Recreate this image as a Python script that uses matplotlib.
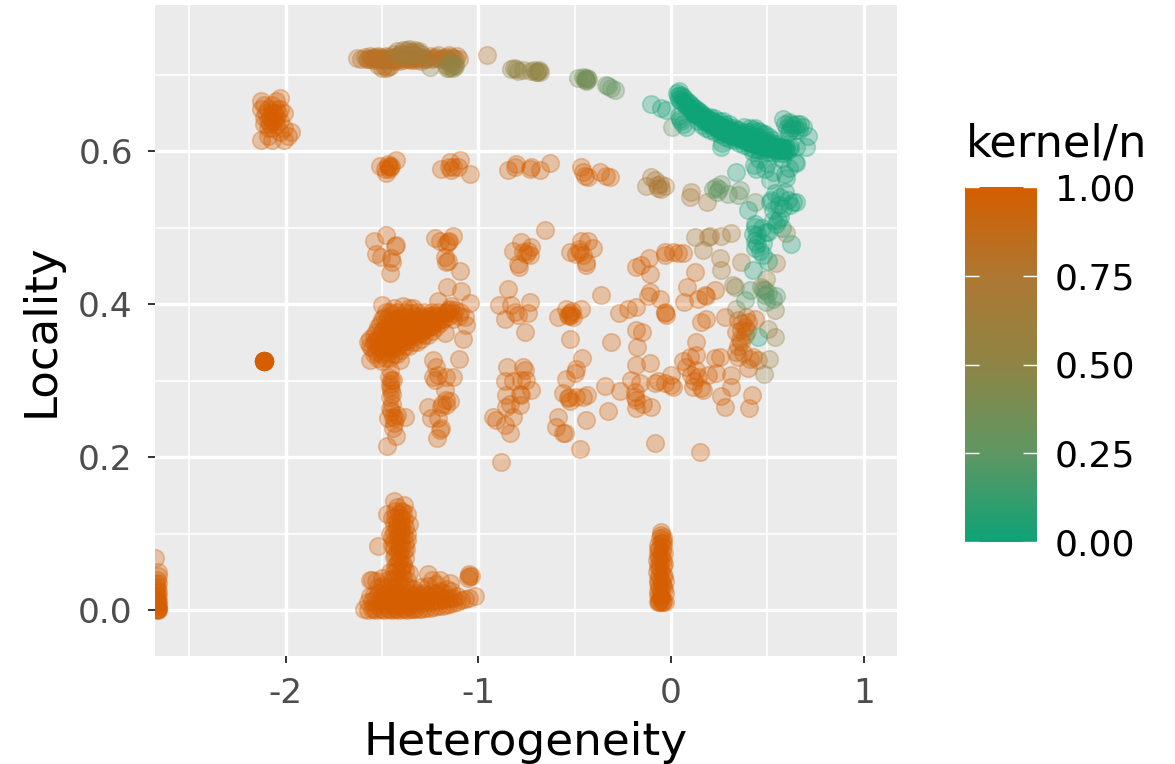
import matplotlib
matplotlib.use("Agg")
import matplotlib.pyplot as plt
import numpy as np
from matplotlib.colors import LinearSegmentedColormap

# valeurs : (heterogeneity, locality), regroupees par nuage
top_row = [(-1.63,.722),(-1.61,.720),(-1.59,.723),(-1.57,.721),(-1.55,.722),(-1.53,.720),(-1.51,.723),(-1.50,.721),
    (-1.49,.719),(-1.47,.723),(-1.46,.720),(-1.45,.722),(-1.43,.720),(-1.42,.724),(-1.41,.721),(-1.39,.719),
    (-1.38,.723),(-1.36,.721),(-1.35,.719),(-1.33,.722),(-1.31,.720),(-1.29,.723),(-1.27,.721),(-1.25,.724),
    (-1.23,.722),(-1.21,.725),(-1.19,.721),(-1.17,.723),(-1.15,.725),(-1.13,.722),(-1.11,.724),(-1.10,.721),
    (-1.56,.724),(-1.54,.719),(-1.52,.724),(-1.48,.724),(-1.44,.718),(-1.40,.724),(-1.34,.724),(-1.30,.718),
    (-1.58,.720),(-1.56,.720),(-1.54,.723),(-1.53,.722),(-1.51,.720),(-1.49,.722),(-1.47,.720),(-1.45,.719),
    (-1.43,.723),(-1.41,.718),(-1.39,.722),(-1.37,.720),(-1.35,.722),(-1.33,.719),(-1.31,.723),(-1.28,.720),
    (-1.26,.722),(-1.24,.720),(-1.22,.723),(-1.20,.720),(-1.18,.722),(-1.16,.720),(-1.14,.723),(-1.12,.720),
    (-1.50,.709),(-1.48,.708),(-1.47,.710),(-1.52,.712),(-1.49,.711),(-1.46,.711),(-0.953,.726)]
top_row_olive = [(-1.44,.727),(-1.42,.731),(-1.40,.728),(-1.39,.732),(-1.37,.729),(-1.36,.733),(-1.35,.730),
    (-1.34,.727),(-1.33,.732),(-1.32,.729),(-1.31,.731),(-1.30,.727),(-1.41,.725),(-1.38,.726),(-1.35,.725),
    (-1.37,.732),(-1.34,.730),(-1.33,.725)]
top_row_end = [(-1.253,.710),(-1.17,.712),(-1.16,.708),(-1.15,.715),(-1.14,.710),(-1.14,.716),(-1.13,.708),
    (-1.13,.713),(-1.12,.711),(-1.15,.709),(-1.12,.714),(-0.829,.707),(-0.815,.708),(-0.803,.707),(-0.795,.705),
    (-0.768,.706),(-0.725,.705),(-0.71,.706),(-0.70,.704),(-0.690,.705),(-0.685,.706),(-0.682,.703),(-0.695,.703)]
arc_mid = [(-.483,.696),(-.455,.697),(-.448,.694),(-.445,.695),(-.439,.693),(-.436,.696),(-.432,.694),(-.442,.692)]
arc_right = [(-.336,.687),(-.325,.685),(-.310,.683),(-.292,.680),(.005,.632),(.218,.551),(.235,.553),(.261,.557),
    (.250,.550),(.296,.544),(.348,.542),(.356,.549),(.434,.533),(.240,.546)]
green_band = [(.030,.676),(.035,.672),(.040,.678),(.042,.668),(.048,.674),(.052,.666),(.058,.672),(.062,.664),
    (.068,.669),(.072,.661),(.078,.666),(.082,.659),(.088,.664),(.092,.656),(.098,.662),(.102,.654),(.108,.659),
    (.112,.652),(.118,.657),(.122,.650),(.128,.655),(.132,.648),(.138,.653),(.142,.646),(.148,.651),(.152,.644),
    (.158,.649),(.162,.642),(.168,.647),(.172,.640),(.178,.645),(.182,.638),(.188,.643),(.192,.637),(.198,.642),
    (.202,.635),(.208,.640),(.212,.634),(.218,.639),(.222,.632),(.228,.637),(.232,.631),(.238,.636),(.242,.629),
    (.248,.634),(.252,.628),(.258,.633),(.262,.626),(.268,.632),(.272,.625),(.278,.630),(.282,.624),(.288,.629),
    (.292,.623),(.298,.628),(.302,.622),(.308,.627),(.312,.621),(.318,.626),(.322,.620),(.328,.625),(.332,.619),
    (.338,.624),(.342,.618),(.348,.623),(.352,.617),(.358,.622),(.362,.616),(.368,.621),(.372,.615),(.378,.620),
    (.382,.614),(.388,.619),(.392,.613),(.398,.618),(.402,.612),(.408,.617),(.412,.611),(.418,.616),(.422,.610),
    (.428,.615),(.432,.609),(.438,.614),(.442,.608),(.448,.613),(.452,.608),(.458,.612),(.462,.607),(.468,.611),
    (.472,.606),(.478,.610),(.482,.606),(.488,.609),(.492,.605),(.498,.609),(.502,.604),(.508,.608),(.512,.604),
    (.518,.608),(.522,.603),(.528,.607),(.532,.603),(.538,.606),(.542,.603),(.548,.606),(.552,.602),(.558,.605),
    (.562,.602),(.568,.605),(.572,.602),(.578,.604),(.582,.602),(.588,.604),(.592,.602),(.598,.604),
    (.345,.628),(.380,.632),(.400,.625),(.425,.628),(.450,.626),(.475,.622),(.300,.636),(.270,.640),
    (.120,.648),(.140,.640),(.160,.634),(.180,.630),(.200,.644),(.205,.628),(.225,.643),(.230,.625),(.250,.640),
    (.255,.622),(.275,.636),(.280,.618),(.300,.632),(.305,.616),(.325,.630),(.330,.614),(.350,.628),(.355,.611),
    (.375,.625),(.380,.608),(.400,.622),(.405,.606),(.425,.620),(.430,.603),(.450,.618),(.455,.602),(.475,.615),
    (.480,.601),(.500,.613),(.505,.599),(.525,.611),(.530,.598),(.550,.609),(.555,.598),(.575,.607),(.580,.598),
    (.600,.600),(.610,.603),(.620,.605),(.510,.618),(.530,.615),(.490,.622),(.460,.625),(.435,.630),(.410,.630)]
green_spread = [(-.106,.662),(-.050,.657),(-.028,.654),(.045,.642),(.054,.640),(.080,.632),(.040,.646),(.060,.636),
    (.261,.606),(.265,.610),(.426,.599),(.581,.642),(.590,.636),(.600,.630),(.612,.638),(.625,.636),(.630,.630),
    (.640,.634),(.650,.627),(.655,.636),(.668,.636),(.665,.628),(.687,.631),(.711,.620),(.702,.605),(.651,.605),
    (.620,.628),(.610,.625),(.443,.577),(.486,.577),(.512,.562),(.590,.570),(.642,.586),(.650,.584),(.339,.573),
    (.430,.582),(.455,.590),(.500,.585),(.575,.590),(.530,.573),(.595,.565),(.610,.578),(.521,.536),(.564,.540),
    (.633,.533),(.529,.523),(.564,.514),(.590,.547),(.607,.536),(.651,.533),(.512,.533),(.400,.523),(.434,.505),
    (.426,.492),(.503,.494),(.434,.501),(.495,.494),(.434,.483),(.434,.473),(.477,.464),(.503,.457),(.426,.444),
    (.625,.478),(.555,.510),(.452,.357),(.445,.490),(.470,.500),(.530,.510),(.545,.505),(.580,.525),(.620,.530),
    (.445,.478),(.460,.470),(.480,.480),(.575,.500),(.560,.530),(.540,.545)]
green_olive = [(.382,.405),(.408,.418),(.477,.420),(.495,.403),(.503,.414),(.529,.407),(.546,.410),(.490,.412)]
olive_right = [(.322,.425),(.330,.423),(.495,.433),(.469,.423),(.339,.394),(.503,.368),(.538,.392),(.538,.357),
    (.509,.328),(.483,.308),(.488,.418)]
tan_right = [(-.102,.566),(-.128,.554),(-.059,.557),(-.050,.551),(-.033,.554),(-.085,.562),(-.075,.556),(-.065,.552),
    (.102,.547),(.097,.540),(.189,.533),(.123,.488),(.192,.488),(.200,.489),(.261,.489),(.313,.493),(.166,.471),
    (.253,.460),(.258,.444),(.365,.455),(.598,.493),(.546,.454)]
orange_580 = [(-1.512,.580),(-1.429,.589),(-1.469,.583),(-1.460,.579),(-1.477,.572),(-1.486,.577),(-1.452,.581),
    (-1.465,.577),(-1.47,.580),(-1.192,.577),(-1.149,.586),(-1.097,.589),(-1.131,.579),(-1.140,.575),(-1.106,.579),
    (-1.045,.570),(-1.15,.579),(-.846,.575),(-.803,.583),(-.811,.579),(-.734,.577),(-.682,.575),(-.630,.584),
    (-.725,.579),(-.457,.573),(-.448,.568),(-.370,.573),(-.336,.568),(-.318,.566),(-.431,.566),(-.465,.579)]
left_top = [(-2.13,.665),(-2.13,.655),(-2.13,.615),(-2.11,.66),(-2.11,.645),(-2.11,.635),(-2.09,.655),(-2.09,.64),
    (-2.09,.63),(-2.09,.62),(-2.07,.66),(-2.07,.65),(-2.07,.64),(-2.07,.63),(-2.07,.615),(-2.05,.665),(-2.05,.655),
    (-2.05,.645),(-2.05,.635),(-2.03,.67),(-2.03,.655),(-2.03,.64),(-2.03,.625),(-2.01,.65),(-2.01,.63),(-2.01,.615),
    (-1.99,.62),(-1.97,.625),(-2.10,.65),(-2.08,.645),(-2.06,.64),(-2.04,.65),(-2.08,.635),(-2.06,.65)]
single_spot = [(-2.112,.325)] * 14
mid_upper = [(-1.543,.483),(-1.481,.490),(-1.426,.477),(-1.430,.476),(-1.533,.466),(-1.503,.462),(-1.452,.460),
    (-1.449,.455),(-1.46,.441),(-1.227,.486),(-1.131,.489),(-1.201,.483),(-1.157,.481),(-1.166,.479),(-1.150,.483),
    (-1.175,.462),(-1.157,.457),(-1.166,.455),(-1.097,.443),(-.656,.497),(-.777,.481),(-.820,.470),(-.725,.475),
    (-.751,.466),(-.734,.464),(-.768,.468),(-.794,.453),(-.789,.449),(-.740,.470),(-.465,.483),(-.431,.483),
    (-.405,.473),(-.526,.468),(-.491,.466),(-.457,.464),(-.439,.455),(-.439,.451),(-.474,.468),(-.480,.472)]
mid_central = [(-1.161,.423),(-1.092,.417),(-1.209,.404),(-1.045,.402),(-1.157,.392),(-1.149,.394),(-1.131,.388),
    (-1.097,.390),(-1.071,.383),(-1.062,.373),(-1.080,.355),(-1.175,.362),(-1.17,.388),(-1.14,.398),(-1.12,.392),
    (-1.15,.384),(-1.18,.380),(-1.13,.380),(-1.16,.390),(-1.10,.384),(-.846,.420),(-.893,.399),(-.829,.399),
    (-.734,.403),(-.863,.381),(-.811,.390),(-.794,.386),(-.742,.388),(-.760,.363),(-.586,.383),(-.543,.394),
    (-.465,.394),(-.526,.388),(-.517,.386),(-.509,.383),(-.535,.386),(-.522,.355),(-.362,.412),(-.310,.351),
    (-.530,.385),(-.515,.391)]
main_blob = [(-1.57,.350),(-1.56,.345),(-1.56,.355),(-1.54,.335),(-1.54,.350),(-1.54,.360),(-1.55,.342),
    (-1.52,.330),(-1.52,.345),(-1.52,.355),(-1.52,.370),(-1.53,.338),(-1.53,.352),(-1.53,.363),
    (-1.50,.325),(-1.50,.335),(-1.50,.350),(-1.50,.365),(-1.50,.380),(-1.50,.399),(-1.51,.342),(-1.51,.358),(-1.51,.374),
    (-1.48,.330),(-1.48,.345),(-1.48,.360),(-1.48,.375),(-1.48,.390),(-1.49,.338),(-1.49,.352),(-1.49,.368),(-1.49,.383),
    (-1.46,.330),(-1.46,.345),(-1.46,.360),(-1.46,.375),(-1.46,.390),(-1.47,.338),(-1.47,.352),(-1.47,.368),(-1.47,.383),
    (-1.44,.335),(-1.44,.350),(-1.44,.365),(-1.44,.380),(-1.44,.395),(-1.45,.342),(-1.45,.358),(-1.45,.372),(-1.45,.387),
    (-1.42,.335),(-1.42,.350),(-1.42,.365),(-1.42,.380),(-1.42,.390),(-1.43,.342),(-1.43,.358),(-1.43,.372),
    (-1.40,.340),(-1.40,.355),(-1.40,.370),(-1.40,.385),(-1.41,.347),(-1.41,.362),(-1.41,.378),
    (-1.38,.345),(-1.38,.360),(-1.38,.375),(-1.38,.390),(-1.39,.352),(-1.39,.368),(-1.39,.382),(-1.39,.398),
    (-1.36,.345),(-1.36,.360),(-1.36,.375),(-1.36,.395),(-1.37,.352),(-1.37,.368),(-1.37,.383),
    (-1.34,.350),(-1.34,.365),(-1.34,.380),(-1.34,.395),(-1.35,.358),(-1.35,.372),(-1.35,.388),
    (-1.32,.350),(-1.32,.365),(-1.32,.380),(-1.32,.390),(-1.33,.358),(-1.33,.372),(-1.33,.384),
    (-1.30,.355),(-1.30,.370),(-1.30,.385),(-1.31,.362),(-1.31,.378),(-1.28,.360),(-1.28,.375),(-1.28,.390),
    (-1.29,.368),(-1.29,.382),(-1.26,.360),(-1.26,.370),(-1.26,.385),(-1.24,.365),(-1.24,.380),(-1.24,.390),
    (-1.22,.370),(-1.22,.385),(-1.20,.385),(-1.20,.375),(-1.564,.327),
    (-1.31,.370),(-1.29,.375),(-1.27,.368),(-1.27,.380),(-1.25,.372),(-1.25,.384),(-1.23,.375),(-1.23,.386),
    (-1.33,.365),(-1.30,.362),(-1.28,.368),(-1.26,.376),(-1.24,.372),(-1.21,.378),(-1.19,.380),(-1.21,.390),
    (-1.47,.345),(-1.44,.358),(-1.41,.355),(-1.38,.352),(-1.35,.365),(-1.46,.368),(-1.43,.375),(-1.40,.362),(-1.37,.375)]
col_left = [(-1.460,.314),(-1.452,.301),(-1.443,.301),(-1.460,.292),(-1.452,.288),(-1.449,.283),(-1.459,.279),
    (-1.460,.264),(-1.452,.260),(-1.443,.253),(-1.382,.252),(-1.469,.251),(-1.434,.251),(-1.443,.238),(-1.426,.227),
    (-1.472,.214),(-1.408,.327),(-1.464,.305),(-1.447,.270),(-1.456,.296),(-1.440,.245),(-1.420,.255),
    (-1.235,.327),(-1.221,.318),(-1.235,.305),(-1.227,.301),(-1.209,.307),(-1.166,.305),(-1.131,.305),(-1.175,.288),
    (-1.166,.275),(-1.149,.273),(-1.192,.266),(-1.261,.266),(-1.244,.251),(-1.209,.251),(-1.192,.238),(-1.197,.236),
    (-1.215,.225),(-1.100,.328),(-1.190,.270),(-1.170,.268)]
col_mid = [(-.851,.318),(-.768,.318),(-.760,.314),(-.863,.299),(-.820,.299),(-.777,.301),(-.751,.301),(-.725,.288),
    (-.855,.281),(-.785,.283),(-.777,.281),(-.837,.270),(-.785,.268),(-.855,.266),(-.820,.253),(-.924,.253),
    (-.910,.249),(-.863,.242),(-.834,.231),(-.881,.194),(-.460,.329),(-.495,.315),(-.547,.302),(-.561,.284),
    (-.535,.277),(-.526,.273),(-.491,.279),(-.457,.279),(-.436,.281),(-.586,.253),(-.595,.239),(-.561,.231),
    (-.552,.231),(-.439,.249),(-.471,.210),(-.344,.293),(-.263,.287),(-.327,.260),(-.500,.310),(-.530,.278)]
scatter_right = [(-.180,.449),(-.154,.451),(-.116,.460),(-.111,.440),(-.033,.468),(-.033,.464),(.010,.468),(.036,.467),
    (.062,.467),(-.111,.416),(-.119,.410),(-.059,.407),(-.270,.389),(-.223,.394),(-.180,.396),(-.033,.390),(-.024,.386),
    (-.030,.388),(-.180,.366),(-.149,.364),(-.176,.344),(-.183,.320),(-.111,.323),(.123,.442),(.083,.423),(.066,.403),
    (.140,.407),(.175,.412),(.180,.410),(.227,.419),(.157,.377),(.180,.380),(.279,.383),(.131,.350),(.062,.325),
    (.097,.331),(.131,.333),(.080,.318),(.131,.314),(.106,.307),(.140,.305),(.227,.329),(.253,.331),(.192,.307),
    (.235,.310),(.313,.307),(.114,.292),(.157,.290),(.166,.288),(.313,.291),(.261,.280),(.282,.266),(.403,.264),
    (.422,.281),(.002,.307),(.002,.294),(.010,.292),(-.206,.301),(-.163,.297),(-.085,.297),(-.067,.299),(-.033,.297),
    (-.189,.279),(-.180,.275),(-.145,.270),(-.102,.265),(-.180,.264),(-.085,.218),(.149,.207),(-.185,.285),(.120,.300)]
scatter_dark = [(.348,.379),(.391,.383),(.434,.381),(.339,.364),(.365,.366),(.382,.370),(.400,.377),(.356,.355),
    (.382,.360),(.339,.338),(.374,.336),(.348,.331),(.426,.331),(.452,.327),(.400,.316),(.365,.350),(.350,.345),
    (.370,.375),(.395,.365),(.410,.328)]
base_bottom = [(-1.593,.001),(-1.57,.000),(-1.55,.002),(-1.53,.000),(-1.51,.001),(-1.49,.000),(-1.47,.001),(-1.45,.000),
    (-1.43,.001),(-1.41,.000),(-1.39,.001),(-1.37,.000),(-1.35,.001),(-1.33,.001),(-1.31,.002),(-1.29,.002),(-1.27,.003),
    (-1.25,.003),(-1.23,.004),(-1.21,.005),(-1.19,.006),(-1.17,.007),(-1.15,.008),(-1.13,.009),(-1.11,.011),(-1.09,.013),
    (-1.07,.015),(-1.019,.018),(-1.05,.016),(-1.57,.010),(-1.55,.012),(-1.53,.008),(-1.51,.012),(-1.49,.008),(-1.47,.012),
    (-1.45,.008),(-1.43,.012),(-1.41,.008),(-1.39,.012),(-1.37,.008),(-1.35,.012),(-1.33,.008),(-1.31,.012),(-1.29,.009),
    (-1.27,.012),(-1.25,.010),(-1.23,.013),(-1.21,.012),(-1.19,.014),(-1.17,.014),(-1.15,.016),(-1.13,.016),(-1.11,.018),
    (-1.54,.020),(-1.52,.022),(-1.50,.018),(-1.48,.022),(-1.46,.018),(-1.44,.022),(-1.42,.018),(-1.40,.022),(-1.38,.018),
    (-1.36,.022),(-1.34,.018),(-1.32,.022),(-1.30,.020),(-1.28,.022),(-1.26,.020),(-1.24,.024),(-1.22,.022),(-1.20,.025),
    (-1.18,.022),(-1.16,.028),(-1.14,.025),(-1.55,.040),(-1.53,.038),(-1.561,.040),(-1.50,.032),(-1.48,.030),(-1.46,.032),
    (-1.44,.030),(-1.42,.032),(-1.40,.030),(-1.38,.032),(-1.36,.030),(-1.34,.028),(-1.30,.030),(-1.26,.032),(-1.22,.034),
    (-1.259,.047),(-1.24,.040),(-1.20,.040),(-1.148,.036),(-1.046,.047),(-1.037,.044),(-1.056,.042),(-1.05,.045),
    (-1.45,.040),(-1.43,.042),(-1.41,.040),(-1.39,.042),(-1.37,.040),(-1.44,.050),(-1.42,.052),(-1.40,.050),(-1.38,.052),
    (-1.54,.001),(-1.50,.002),(-1.46,.002),(-1.42,.002),(-1.38,.002),(-1.34,.002),(-1.44,.006),(-1.40,.006),(-1.36,.006),
    (-1.52,.030),(-1.50,.042),(-1.47,.040),(-1.46,.050),(-1.43,.058),(-1.39,.058),(-1.36,.048),(-1.33,.020),(-1.29,.016),
    (-1.25,.018),(-1.21,.020),(-1.56,.018),(-1.53,.016),(-1.49,.018),(-1.45,.015),(-1.41,.015),(-1.37,.015),(-1.33,.014)]
tall_column = [(-1.519,.084),(-1.435,.142),(-1.385,.138),(-1.472,.125),(-1.361,.112),(-1.46,.100),(-1.375,.080),
    (-1.42,.135),(-1.40,.130),(-1.39,.128),(-1.41,.125),(-1.43,.122),(-1.40,.120),(-1.385,.118),(-1.42,.115),(-1.44,.112),
    (-1.40,.110),(-1.38,.108),(-1.42,.105),(-1.44,.102),(-1.40,.100),(-1.385,.098),(-1.42,.095),(-1.44,.092),(-1.40,.090),
    (-1.38,.088),(-1.42,.085),(-1.44,.082),(-1.40,.080),(-1.385,.078),(-1.42,.075),(-1.43,.072),(-1.40,.070),(-1.41,.066),
    (-1.42,.060),(-1.39,.060),(-1.40,.055),(-1.42,.110),(-1.40,.115),(-1.41,.095),(-1.41,.085),(-1.40,.105),(-1.41,.075),
    (-1.45,.120),(-1.37,.125),(-1.45,.095),(-1.37,.100),(-1.45,.085),(-1.37,.092),(-1.44,.070),(-1.38,.068),(-1.43,.130)]
col_zero = [(-.07,.010),(-.05,.010),(-.03,.010),(-.06,.012),(-.04,.012),(-.05,.014),(-.06,.010),(-.04,.010),(-.05,.018),
    (-.07,.020),(-.03,.022),(-.05,.026),(-.06,.030),(-.04,.032),(-.07,.036),(-.03,.038),(-.05,.040),(-.06,.045),(-.04,.046),
    (-.075,.050),(-.05,.052),(-.07,.058),(-.04,.058),(-.055,.062),(-.075,.066),(-.04,.066),(-.05,.070),(-.065,.072),
    (-.045,.076),(-.06,.080),(-.04,.082),(-.065,.085),(-.05,.088),(-.04,.092),(-.055,.094),(-.05,.098),(-.04,.096),(-.05,.102),
    (-.035,.028),(-.065,.025),(-.035,.045),(-.065,.040),(-.035,.060),(-.06,.055),(-.035,.075),(-.07,.078),(-.04,.088),
    (-.06,.068),(-.045,.035),(-.055,.020)]
col_edge = [(-2.676,.068),(-2.66,.050),(-2.66,.044),(-2.67,.040),(-2.66,.035),(-2.67,.030),(-2.665,.025),(-2.67,.022),
    (-2.66,.018),(-2.67,.015),(-2.66,.012),(-2.67,.010),(-2.66,.008),(-2.67,.006),(-2.665,.004),(-2.67,.002),(-2.66,.002),
    (-2.67,.000),(-2.665,.001),(-2.66,.000),(-2.675,.034),(-2.675,.026),(-2.675,.018),(-2.675,.012),(-2.675,.006)]

clusters = [col_edge, base_bottom, tall_column, col_zero, left_top, single_spot, main_blob, mid_central, col_left,
            col_mid, mid_upper, orange_580, scatter_right, scatter_dark, top_row, top_row_olive, top_row_end,
            tan_right, arc_mid, arc_right, olive_right, green_olive, green_spread, green_band]
kernel = [1.0, 1.0, 1.0, 1.0, 1.0, 1.0, 1.0, 1.0, 1.0,
          1.0, 1.0, 1.0, 1.0, 0.95, 0.82, 0.68, 0.52,
          0.72, 0.36, 0.28, 0.55, 0.22, 0.02, 0.0]

cbar_ticks = [0.0, 0.25, 0.5, 0.75, 1.0]
cbar_labels = ["0.00", "0.25", "0.50", "0.75", "1.00"]
cmap = LinearSegmentedColormap.from_list("kernel", [(0.0, "#0fa378"), (0.25, "#5f9763"), (0.5, "#8f8546"),
                                                    (0.75, "#ae7833"), (1.0, "#d55e00")])

fig = plt.figure(figsize=(5.875, 3.82), dpi=200)
ax = fig.add_axes([155/1175, 1 - 656/764, 742/1175, 651/764], facecolor="#ebebeb")

for pts, k in zip(clusters, kernel):
    x, y = zip(*pts)
    ax.scatter(x, y, s=40, color=cmap(k), alpha=0.3, linewidths=0.6, zorder=3)

ax.set_xlim(-2.678, 1.173)
ax.set_ylim(-0.06, 0.791)
ax.set_xticks([-2, -1, 0, 1])
ax.set_xticklabels(["-2", "-1", "0", "1"])
ax.set_yticks([0.0, 0.2, 0.4, 0.6])
ax.set_xticks([-2.5, -1.5, -0.5, 0.5], minor=True)
ax.set_yticks([0.1, 0.3, 0.5, 0.7], minor=True)
ax.grid(which="major", color="white", lw=1.2, zorder=1)
ax.grid(which="minor", color="white", lw=0.6, zorder=1)
ax.set_axisbelow(True)
ax.tick_params(which="major", length=2.5, width=0.7, color="#333333", labelcolor="#4d4d4d", labelsize=12.4)
ax.tick_params(axis="x", which="major", pad=5)
ax.tick_params(axis="y", which="major", pad=5.5)
ax.tick_params(which="minor", length=0)
for s in ax.spines.values():
    s.set_visible(False)
ax.set_xlabel("Heterogeneity", fontsize=16.35, labelpad=4)
ax.set_ylabel("Locality", fontsize=16.2, labelpad=5.5)

# legende
cax = fig.add_axes([965/1175, 1 - 542/764, 72/1175, 355/764])
cax.imshow(np.linspace(1, 0, 256).reshape(-1, 1), cmap=cmap, aspect="auto", extent=[0, 1, 0, 1])
cax.hlines(cbar_ticks, 0, 0.2, color="white", lw=0.5)
cax.hlines(cbar_ticks, 0.8, 1, color="white", lw=0.5)
cax.set_xlim(0, 1)
cax.set_ylim(0, 1)
cax.set_xticks([])
cax.yaxis.tick_right()
cax.set_yticks(cbar_ticks)
cax.set_yticklabels(cbar_labels)
cax.tick_params(length=0, labelsize=13, pad=6.5, labelcolor="black")
for s in cax.spines.values():
    s.set_visible(False)
fig.text(966/1175, 1 - 144/764, "kernel/n", fontsize=16.1, va="center", ha="left")

fig.savefig("out.png", dpi=200)
